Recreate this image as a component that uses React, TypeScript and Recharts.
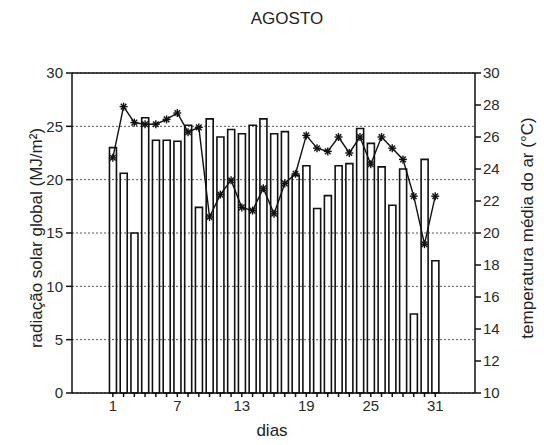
import React from "react";
import { ComposedChart, Bar, Line, XAxis, YAxis, CartesianGrid, ReferenceLine } from "recharts";

// daily values for August
const days = [1, 2, 3, 4, 5, 6, 7, 8, 9, 10, 11, 12, 13, 14, 15, 16, 17, 18, 19, 20, 21, 22, 23, 24, 25, 26, 27, 28, 29, 30, 31];
const radiacao = [23.0, 20.6, 15.0, 25.8, 23.7, 23.7, 23.6, 25.1, 17.4, 25.7, 24.0, 24.7, 24.3, 25.1, 25.7, 24.3, 24.5, 20.4, 21.3, 17.3, 18.5, 21.3, 21.5, 24.8, 23.4, 21.2, 17.6, 21.0, 7.4, 21.9, 12.4];
const temperatura = [24.7, 27.9, 26.9, 26.8, 26.8, 27.1, 27.5, 26.3, 26.6, 21.0, 22.4, 23.3, 21.6, 21.4, 22.8, 21.2, 23.1, 23.7, 26.1, 25.3, 25.1, 26.0, 25.0, 26.0, 24.3, 26.0, 25.3, 24.6, 22.3, 19.3, 22.3];
const labeledDays = [1, 7, 13, 19, 25, 31];
const radTicks = [0, 5, 10, 15, 20, 25, 30];
const tempTicks = [10, 12, 14, 16, 18, 20, 22, 24, 26, 28, 30];

const data = days.map((d, i) => ({ dia: d, rad: radiacao[i], temp: temperatura[i] }));

const FONT = "'Liberation Sans', Arial, sans-serif";
const tickStyle = { fill: "#2a2a2a", fontSize: 15, fontFamily: FONT };

// asterisk marker for the temperature series
const StarDot = (props: any) => {
  const { cx, cy } = props;
  if (cx == null || cy == null) return null;
  const r = 4;
  const d = r * 0.7;
  return (
    <g stroke="#111" strokeWidth={1.4}>
      <line x1={cx - r} y1={cy} x2={cx + r} y2={cy} />
      <line x1={cx} y1={cy - r} x2={cx} y2={cy + r} />
      <line x1={cx - d} y1={cy - d} x2={cx + d} y2={cy + d} />
      <line x1={cx - d} y1={cy + d} x2={cx + d} y2={cy - d} />
    </g>
  );
};

const label: React.CSSProperties = { position: "absolute", fontFamily: FONT, color: "#222", whiteSpace: "nowrap" };

export default function App() {
  return (
    <div style={{ position: "absolute", left: 0, top: 0, width: 544, height: 445, background: "#fff" }}>
      <ComposedChart width={544} height={445} data={data} margin={{ top: 73, right: 0, left: 0, bottom: 0 }}>
        <CartesianGrid yAxisId="rad" vertical={false} stroke="#555" strokeDasharray="2 2" />
        <XAxis dataKey="dia" type="number" domain={[-2.8, 34.7]} ticks={days} interval={0} height={52}
          tickFormatter={(v) => (labeledDays.includes(v) ? String(v) : "")}
          tick={tickStyle} tickSize={4} tickMargin={3} stroke="#111" strokeWidth={1.5} />
        <YAxis yAxisId="rad" orientation="left" domain={[0, 30]} ticks={radTicks} width={72}
          tick={tickStyle} tickSize={6} tickMargin={3} stroke="#111" strokeWidth={1.5} />
        <YAxis yAxisId="temp" orientation="right" domain={[10, 30]} ticks={tempTicks} width={69}
          tick={tickStyle} tickSize={6} tickMargin={2} stroke="#111" strokeWidth={1.5} />
        <ReferenceLine yAxisId="rad" y={30} stroke="#111" strokeWidth={1.5} />
        <Bar yAxisId="rad" dataKey="rad" barSize={7} fill="none" stroke="#111" strokeWidth={1.6} isAnimationActive={false} />
        <Line yAxisId="temp" dataKey="temp" type="linear" stroke="#111" strokeWidth={1.4} dot={<StarDot />} activeDot={false} isAnimationActive={false} />
      </ComposedChart>
      <div style={{ ...label, left: 0, width: 574, top: 9, textAlign: "center", fontSize: 17 }}>AGOSTO</div>
      <div style={{ ...label, left: 0, width: 544, top: 421, textAlign: "center", fontSize: 17 }}>dias</div>
      <div style={{ ...label, left: 37, top: 238, fontSize: 17, transform: "translate(-50%, -50%) rotate(-90deg)" }}>
        radiação solar global (MJ/m²)
      </div>
      <div style={{ ...label, left: 528, top: 228, fontSize: 17, transform: "translate(-50%, -50%) rotate(-90deg)" }}>
        temperatura média do ar (°C)
      </div>
    </div>
  );
}
